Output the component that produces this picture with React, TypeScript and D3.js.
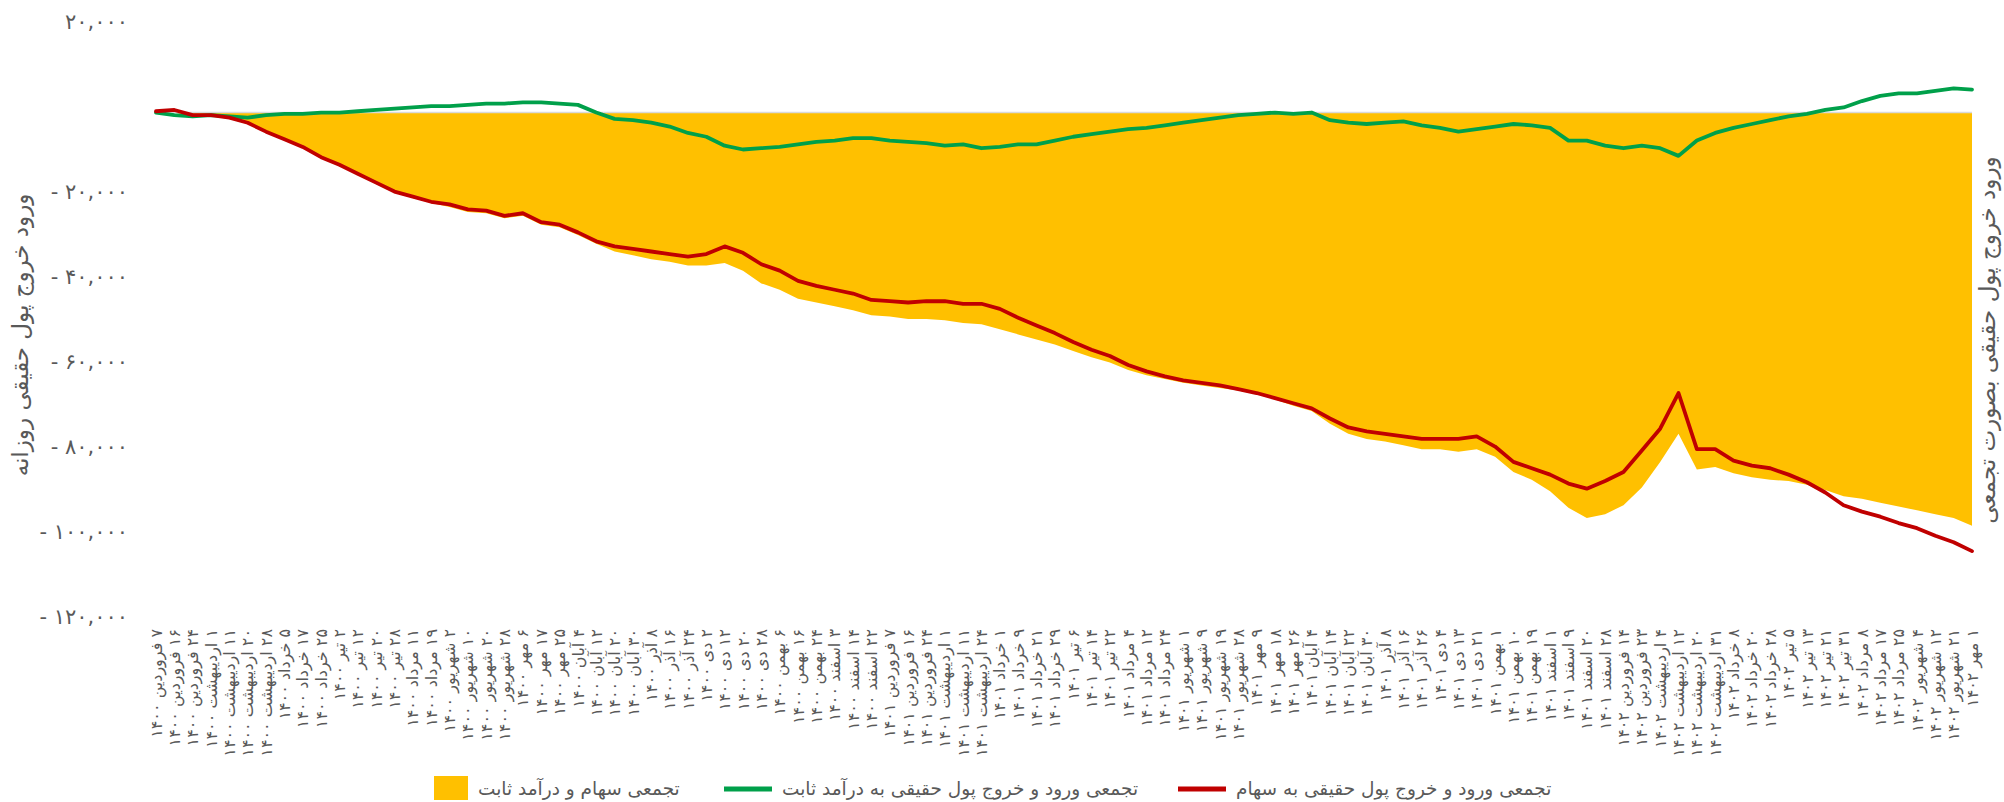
import React from 'react';
import * as d3 from 'd3';

const xLabels: string[] = [
  "7 فروردین 1400","16 فروردین 1400","24 فروردین 1400","1 اردیبهشت 1400","11 اردیبهشت 1400","20 اردیبهشت 1400","28 اردیبهشت 1400","5 خرداد 1400","17 خرداد 1400","25 خرداد 1400",
  "2 تیر 1400","12 تیر 1400","20 تیر 1400","28 تیر 1400","11 مرداد 1400","19 مرداد 1400","2 شهریور 1400","10 شهریور 1400","20 شهریور 1400","28 شهریور 1400",
  "6 مهر 1400","17 مهر 1400","25 مهر 1400","4 آبان 1400","12 آبان 1400","20 آبان 1400","30 آبان 1400","8 آذر 1400","16 آذر 1400","24 آذر 1400",
  "2 دی 1400","12 دی 1400","20 دی 1400","28 دی 1400","6 بهمن 1400","16 بهمن 1400","24 بهمن 1400","3 اسفند 1400","14 اسفند 1400","22 اسفند 1400",
  "7 فروردین 1401","16 فروردین 1401","24 فروردین 1401","1 اردیبهشت 1401","11 اردیبهشت 1401","24 اردیبهشت 1401","1 خرداد 1401","9 خرداد 1401","21 خرداد 1401","29 خرداد 1401",
  "6 تیر 1401","14 تیر 1401","22 تیر 1401","4 مرداد 1401","12 مرداد 1401","24 مرداد 1401","1 شهریور 1401","9 شهریور 1401","19 شهریور 1401","28 شهریور 1401",
  "9 مهر 1401","18 مهر 1401","26 مهر 1401","4 آبان 1401","14 آبان 1401","22 آبان 1401","30 آبان 1401","8 آذر 1401","16 آذر 1401","26 آذر 1401",
  "4 دی 1401","13 دی 1401","21 دی 1401","1 بهمن 1401","10 بهمن 1401","19 بهمن 1401","1 اسفند 1401","9 اسفند 1401","20 اسفند 1401","28 اسفند 1401",
  "14 فروردین 1402","23 فروردین 1402","4 اردیبهشت 1402","12 اردیبهشت 1402","20 اردیبهشت 1402","31 اردیبهشت 1402","8 خرداد 1402","20 خرداد 1402","28 خرداد 1402","5 تیر 1402",
  "13 تیر 1402","21 تیر 1402","31 تیر 1402","8 مرداد 1402","17 مرداد 1402","25 مرداد 1402","4 شهریور 1402","12 شهریور 1402","21 شهریور 1402","1 مهر 1402"
];

// cumulative real money flow into stocks
const stockCum: number[] = [
  300, 600, -600, -600, -1200, -2400, -4500, -6300, -8100, -10500,
  -12300, -14400, -16500, -18600, -19800, -21000, -21600, -22800, -23100, -24300,
  -23700, -25800, -26400, -28200, -30300, -31500, -32100, -32700, -33300, -33900,
  -33300, -31500, -33000, -35700, -37200, -39600, -40800, -41700, -42600, -44100,
  -44400, -44700, -44400, -44400, -45000, -45000, -46200, -48300, -50100, -51900,
  -54000, -55800, -57300, -59400, -60900, -62100, -63000, -63600, -64200, -65100,
  -66000, -67200, -68400, -69600, -72000, -74100, -75000, -75600, -76200, -76800,
  -76800, -76800, -76200, -78600, -82200, -83700, -85200, -87300, -88500, -86700,
  -84600, -79500, -74400, -66000, -79200, -79200, -81900, -83100, -83700, -85200,
  -87000, -89400, -92400, -93900, -95100, -96600, -97800, -99600, -101100, -103200
];

// cumulative real money flow into fixed income funds
const fixedCum: number[] = [
  0, -600, -900, -600, -900, -1200, -600, -300, -300, 0,
  0, 300, 600, 900, 1200, 1500, 1500, 1800, 2100, 2100,
  2400, 2400, 2100, 1800, 0, -1500, -1800, -2400, -3300, -4800,
  -5700, -7800, -8700, -8400, -8100, -7500, -6900, -6600, -6000, -6000,
  -6600, -6900, -7200, -7800, -7500, -8400, -8100, -7500, -7500, -6600,
  -5700, -5100, -4500, -3900, -3600, -3000, -2400, -1800, -1200, -600,
  -300, 0, -300, 0, -1800, -2400, -2700, -2400, -2100, -3000,
  -3600, -4500, -3900, -3300, -2700, -3000, -3600, -6600, -6600, -7800,
  -8400, -7800, -8400, -10200, -6600, -4800, -3600, -2700, -1800, -900,
  -300, 600, 1200, 2700, 3900, 4500, 4500, 5100, 5700, 5400
];

// cumulative stocks + fixed income
const totalCum: number[] = [
  0, 0, -900, -900, -1500, -2700, -4800, -6600, -8400, -10800,
  -12600, -14700, -16800, -18900, -20100, -21300, -22200, -23400, -23700, -24900,
  -24300, -26400, -27000, -28800, -30900, -32700, -33600, -34500, -35100, -36000,
  -36000, -35400, -37200, -40200, -41700, -43800, -44700, -45600, -46500, -47700,
  -48000, -48600, -48600, -48900, -49500, -49800, -51000, -52200, -53400, -54600,
  -56100, -57600, -58800, -60600, -61800, -62700, -63600, -64200, -64800, -65400,
  -66300, -67500, -69000, -70200, -73200, -75600, -76800, -77400, -78300, -79200,
  -79200, -79800, -79200, -81000, -84600, -86400, -89100, -93000, -95400, -94500,
  -92400, -88200, -82200, -75600, -84000, -83400, -84900, -85800, -86400, -86700,
  -87600, -88800, -90300, -90900, -91800, -92700, -93600, -94500, -95400, -97200
];

const leftTicks: number[] = [20000, -20000, -40000, -60000, -80000, -100000, -120000];

const legendItems = [
  { label: 'تجمعی سهام و درآمد ثابت', kind: 'rect', color: '#FFC000' },
  { label: 'تجمعی ورود و خروج پول حقیقی به درآمد ثابت', kind: 'line', color: '#00A04A' },
  { label: 'تجمعی ورود و خروج پول حقیقی به سهام', kind: 'line', color: '#C00000' },
];

const leftTitle = 'ورود خروج پول حقیقی روزانه';
const rightTitle = 'ورود خروج پول حقیقی بصورت تجمعی';

const FA = '۰۱۲۳۴۵۶۷۸۹';
const toFa = (s: string) => s.replace(/\d/g, (d) => FA[+d]);
const fmtTick = (v: number) => (v < 0 ? '- ' : '') + toFa(d3.format(',')(Math.abs(v)));

const W = 2004;
const H = 802;
const FONT = "'DejaVu Sans', 'Noto Sans', sans-serif";
const TXT = '#595959';

export default function App() {
  const left = 156, right = 1972, top = 22, bottom = 617;
  const idx = d3.range(xLabels.length);
  const x = d3.scalePoint<number>().domain(idx).range([left, right]);
  const yL = d3.scaleLinear().domain([-120000, 20000]).range([bottom, top]);
  const yR = d3.scaleLinear().domain([-118700, 21300]).range([bottom, top]);

  const area = d3.area<number>().x((_, i) => x(i)!).y0(yR(0)).y1((d) => yR(d));
  const line = d3.line<number>().x((_, i) => x(i)!).y((d) => yR(d)).curve(d3.curveLinear);

  const labelTop = 629;

  const legendPos = [
    { sx: 434, sw: 34, tx: 478 },
    { sx: 724, sw: 48, tx: 782 },
    { sx: 1178, sw: 48, tx: 1236 },
  ];
  const legendY = 789;

  return (
    <div style={{ position: 'absolute', left: 0, top: 0, width: W, height: H, background: '#fff' }}>
      <svg width={W} height={H} style={{ display: 'block', fontFamily: FONT }}>
        <rect x={0} y={0} width={W} height={H} fill="#fff" />
        {/* cumulative area */}
        <path d={area(totalCum) || ''} fill="#FFC000" />
        <line x1={left} x2={right} y1={yR(0)} y2={yR(0)} stroke="#D9D9D9" strokeWidth={1.5} />
        <path d={line(fixedCum) || ''} fill="none" stroke="#00A04A" strokeWidth={3.8} strokeLinejoin="round" strokeLinecap="round" />
        <path d={line(stockCum) || ''} fill="none" stroke="#C00000" strokeWidth={3.8} strokeLinejoin="round" strokeLinecap="round" />

        {/* left axis tick labels */}
        {leftTicks.map((t) => (
          <text key={t} x={128} y={yL(t)} dy="0.35em" textAnchor="end" fontSize={21} fill={TXT}>
            {fmtTick(t)}
          </text>
        ))}

        {/* x labels */}
        {xLabels.map((l, i) => (
          <text
            key={i}
            transform={`translate(${x(i)},${labelTop}) rotate(-90)`}
            dy="0.35em"
            textAnchor="start"
            direction="rtl"
            style={{ direction: 'rtl', unicodeBidi: 'embed' }}
            fontSize={16}
            fill={TXT}
          >
            {toFa(l)}
          </text>
        ))}

        {/* axis titles */}
        <text transform={`translate(20,335) rotate(-90)`} dy="0.35em" textAnchor="middle" fontSize={23} fill={TXT}>
          {leftTitle}
        </text>
        <text transform={`translate(1987,340) rotate(-90)`} dy="0.35em" textAnchor="middle" fontSize={23} fill={TXT}>
          {rightTitle}
        </text>

        {/* legend */}
        {legendItems.map((it, k) => {
          const p = legendPos[k];
          return (
            <g key={k}>
              {it.kind === 'rect' ? (
                <rect x={p.sx} y={legendY - 13} width={p.sw} height={24} fill={it.color} />
              ) : (
                <line x1={p.sx} x2={p.sx + p.sw} y1={legendY} y2={legendY} stroke={it.color} strokeWidth={5} />
              )}
              <text x={p.tx} y={legendY} dy="0.35em" textAnchor="start" fontSize={18.5} fill={TXT}>
                {it.label}
              </text>
            </g>
          );
        })}
      </svg>
    </div>
  );
}
